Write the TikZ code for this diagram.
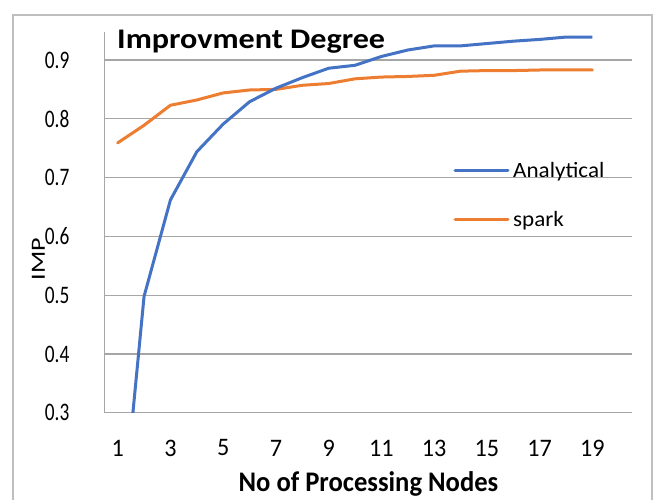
\documentclass[tikz,border=0pt]{standalone}
\usepackage{fontspec}
\setmainfont{Carlito}
\definecolor{xblue}{HTML}{4472C4}
\definecolor{xorange}{HTML}{ED7D31}
\definecolor{gridc}{HTML}{A6A6A6}
\definecolor{framec}{HTML}{BFBFBF}
\tikzset{
  gridline/.style={gridc, line width=1.3pt},
  serie/.style={line width=3pt, line join=round, line cap=round},
  ticklab/.style={inner sep=0pt, font=\fontsize{21}{21}\selectfont},
  boldlab/.style={inner sep=0pt, font=\fontsize{22}{22}\selectfont\bfseries},
  leglab/.style={inner sep=0pt, anchor=base west, font=\fontsize{21}{21}\selectfont},
}
\begin{document}
\begin{tikzpicture}[x=1pt,y=-1pt]
\useasboundingbox (0,0) rectangle (654,500);
\fill[white] (0,0) rectangle (654,500);
\draw[framec, line width=1.2pt] (13,500) -- (13,15) -- (652,15) -- (652,500);

% plot area in data coordinates
\begin{scope}[shift={(91.3125pt,-589.2pt)}, x=26.375pt, y=588pt]
  \foreach \v in {0.3,0.4,...,0.95} {
    \draw[gridline] (0.5,\v) -- (20.5,\v);
  }
  \draw[gridline] (0.5,0.3) -- (0.5,0.948);
  \begin{scope}
    \clip (0.5,0.3) rectangle (20.5,0.95);
    \draw[serie, xorange] plot coordinates {(1,0.759) (2,0.789) (3,0.823) (4,0.832) (5,0.844) (6,0.849) (7,0.850) (8,0.857) (9,0.860) (10,0.868) (11,0.871) (12,0.872) (13,0.874) (14,0.881) (15,0.882) (16,0.882) (17,0.883) (18,0.883) (19,0.883)};
    \draw[serie, xblue, line cap=butt] plot coordinates {(1,0.03) (2,0.498) (3,0.662) (4,0.744) (5,0.791) (6,0.829) (7,0.852) (8,0.870) (9,0.886) (10,0.891) (11,0.906) (12,0.917) (13,0.924) (14,0.924) (15,0.928) (16,0.932) (17,0.935) (18,0.939) (19,0.939)};
  \end{scope}
\end{scope}

% y tick labels
\foreach \v/\yy in {0.3/412.8,0.4/354,0.5/295.2,0.6/236.4,0.7/177.6,0.8/118.8,0.9/60} {
  \node[ticklab, anchor=east] (yl\v) at (69.5,\yy) {\scalebox{0.92}[1.2]{\v}};
}
% x tick labels
\foreach \i in {1,3,...,19} {
  \node[ticklab] (xl\i) at ({91.3125+26.375*\i},448) {\scalebox{1.15}[1.2]{\i}};
}

\node[boldlab, anchor=base west] (title) at (117,48.3) {\scalebox{1.46}[1.29]{Improvment Degree}};
\node[boldlab, anchor=base] (xlabel) at (368.5,491.7) {\scalebox{1.21}[1.29]{No of Processing Nodes}};
\node[inner sep=0pt, anchor=base, rotate=90, font=\fontsize{21}{21}\selectfont] (ylabel) at (45,259) {\scalebox{1.24}[0.96]{IMP}};

% legend
\coordinate (la1) at (455,170.7);
\coordinate (la2) at (508,170.7);
\coordinate (lb1) at (455,219.3);
\coordinate (lb2) at (508,219.3);
\draw[serie, xblue] (la1) -- (la2);
\draw[serie, xorange] (lb1) -- (lb2);
\node[leglab] (lega) at (513,177.3) {\scalebox{1.1}[1.04]{Analytical}};
\node[leglab] (legb) at (513,226) {\scalebox{1.1}[1.04]{spark}};
\end{tikzpicture}
\end{document}
